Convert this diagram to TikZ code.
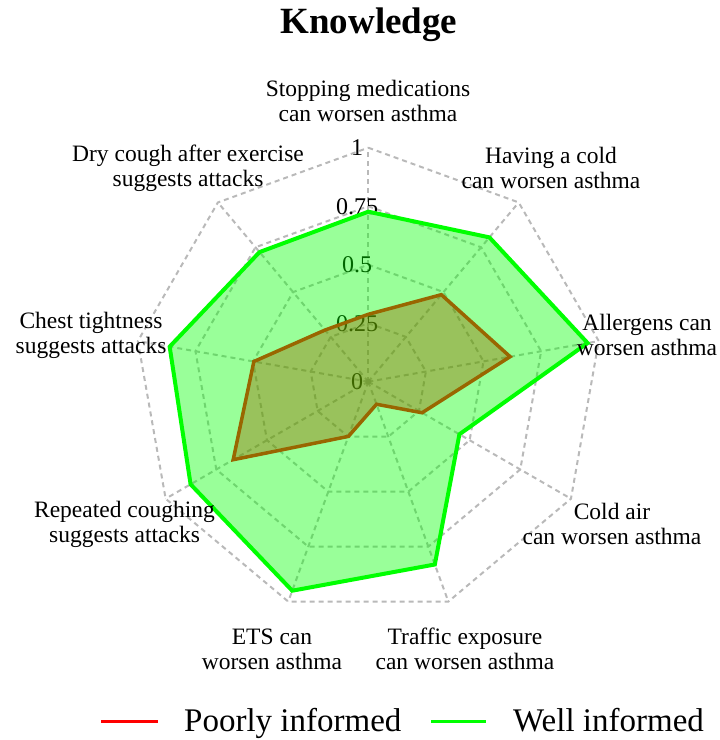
\documentclass[tikz,border=0pt]{standalone}
\usepackage{fontspec}
\setmainfont{Liberation Serif}
\tikzset{
  gridline/.style={draw=gray!55, dash pattern=on 5pt off 4pt, line width=2pt},
  redpoly/.style={draw=red, line width=3.5pt, fill=red, fill opacity=0.4, draw opacity=1},
  greenpoly/.style={draw=green, line width=4pt, fill=green, fill opacity=0.4, draw opacity=1},
  axlab/.style={font=\fontsize{24}{26}\selectfont, inner sep=0pt},
  catlab/.style={font=\fontsize{23.5}{25}\selectfont, align=center, inner sep=0pt},
  leglab/.style={font=\fontsize{33}{35}\selectfont, anchor=base west, inner sep=0pt},
}
\begin{document}
\begin{tikzpicture}[x=1pt,y=-1pt]
\useasboundingbox (0,0) rectangle (720,740);
\coordinate (C) at (368.3,381.7);

% title
\node[font=\fontsize{37}{39}\selectfont\bfseries, inner sep=0pt] (title) at (369,25) {Knowledge};

% grid
\begin{scope}[shift={(C)}]
  \foreach \r in {58.5,117,175.5,234} {
    \draw[gridline] (90:\r pt) -- (50:\r pt) -- (10:\r pt) -- (-30:\r pt) -- (-70:\r pt)
      -- (-110:\r pt) -- (-150:\r pt) -- (170:\r pt) -- (130:\r pt) -- cycle;
  }
  \foreach \a in {90,50,10,-30,-70,-110,-150,170,130} {
    \draw[gridline] (0,0) -- (\a:234pt);
  }
  \fill[gray!75] (0,0) circle (3pt);
\end{scope}

% axis value labels
\node[axlab] (v0) at (357,381.7) {0};
\node[axlab] (v1) at (357,323.2) {0.25};
\node[axlab] (v2) at (357,264.7) {0.5};
\node[axlab] (v3) at (357,206.2) {0.75};
\node[axlab] (v4) at (357,147.7) {1};

% data polygons
\begin{scope}[shift={(C)}]
  \draw[redpoly] (90:67.4pt) -- (50:113.6pt) -- (10:144pt) -- (-30:62.1pt) -- (-70:24pt)
    -- (-110:58.2pt) -- (-150:156pt) -- (170:116.2pt) -- (130:67.4pt) -- cycle;
  \draw[greenpoly] (90:170pt) -- (50:188.4pt) -- (10:222.7pt) -- (-30:105.2pt) -- (-70:194.5pt)
    -- (-110:222.4pt) -- (-150:205.2pt) -- (170:201.7pt) -- (130:169.2pt) -- cycle;
\end{scope}

% category labels
\node[catlab] (s1) at (368,101) {Stopping medications\\can worsen asthma};
\node[catlab] (s2) at (551,168) {Having a cold\\can worsen asthma};
\node[catlab] (s3) at (647,335) {Allergens can\\worsen asthma};
\node[catlab] (s4) at (612,524) {Cold air\\can worsen asthma};
\node[catlab] (s5) at (465,649) {Traffic exposure\\can worsen asthma};
\node[catlab] (s6) at (272,649) {ETS can\\worsen asthma};
\node[catlab] (s7) at (124.5,524) {Repeated coughing\\suggests attacks};
\node[catlab] (s8) at (91,335) {Chest tightness\\suggests attacks};
\node[catlab] (s9) at (188,168) {Dry cough after exercise\\suggests attacks};

% legend
\coordinate (lr1) at (101,721);
\coordinate (lr2) at (158,721);
\coordinate (lg1) at (431,721);
\coordinate (lg2) at (486,721);
\draw[red, line width=3pt] (lr1) -- (lr2);
\draw[green, line width=3pt] (lg1) -- (lg2);
\node[leglab] (leg1) at (184,731) {Poorly informed};
\node[leglab] (leg2) at (513,731) {Well informed};
\end{tikzpicture}
\end{document}
